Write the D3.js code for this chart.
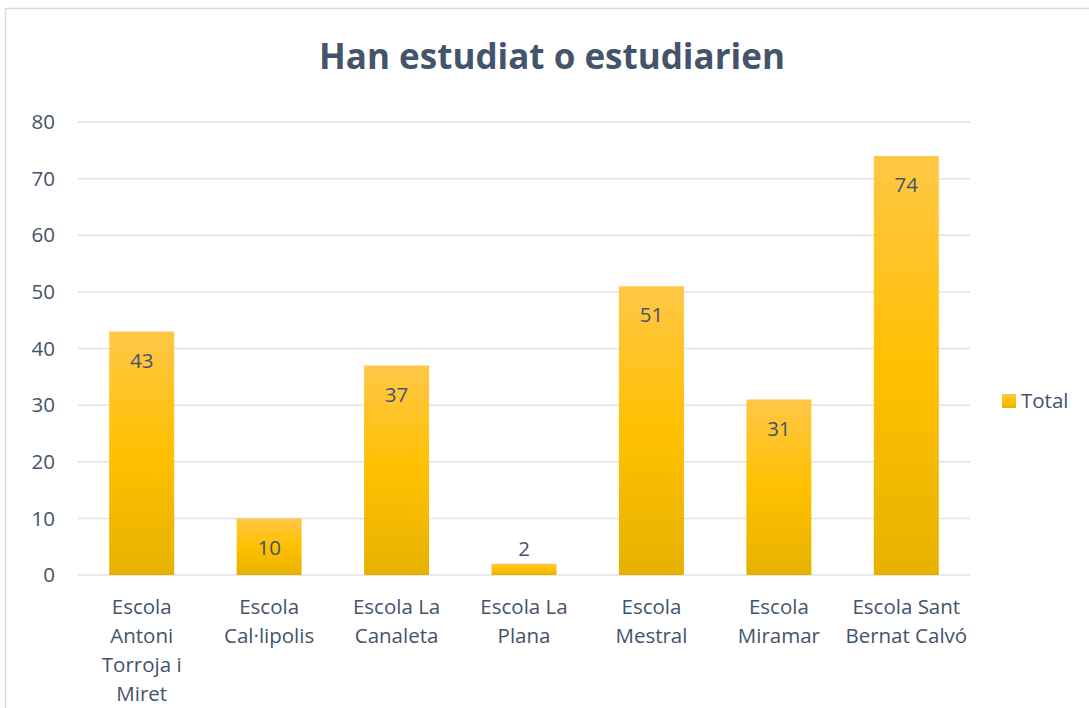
<!DOCTYPE html>
<html>
<head>
<meta charset="utf-8">
<script src="https://cdn.jsdelivr.net/npm/d3@7"></script>
<style>
  body { margin: 0; background: #fff; }
  text { font-family: "Open Sans", sans-serif; fill: #44546a; }
</style>
</head>
<body>
<div id="chart"></div>
<script>
// data
const schools = [
  ["Escola", "Antoni", "Torroja i", "Miret"],
  ["Escola", "Cal·lipolis"],
  ["Escola La", "Canaleta"],
  ["Escola La", "Plana"],
  ["Escola", "Mestral"],
  ["Escola", "Miramar"],
  ["Escola Sant", "Bernat Calvó"]
];
const totals = [43, 10, 37, 2, 51, 31, 74];
const yTicks = [0, 10, 20, 30, 40, 50, 60, 70, 80];
const seriesName = "Total";
const title = "Han estudiat o estudiarien";

let width = 1089, height = 708;
let svg = d3.select("#chart").append("svg")
  .attr("width", width).attr("height", height);

// chart area border (runs off the right / bottom edge)
svg.append("rect")
  .attr("x", 5.5).attr("y", 8.5)
  .attr("width", 1200).attr("height", 800)
  .attr("fill", "none").attr("stroke", "#d9d9d9").attr("stroke-width", 1.5);

// gradient like the Office bar fill
let grad = svg.append("defs").append("linearGradient")
  .attr("id", "gold").attr("x1", 0).attr("x2", 0).attr("y1", 0).attr("y2", 1);
grad.append("stop").attr("offset", "0%").attr("stop-color", "#ffc747");
grad.append("stop").attr("offset", "50%").attr("stop-color", "#ffc000");
grad.append("stop").attr("offset", "100%").attr("stop-color", "#e6b200");

let plot = { left: 78, right: 970, top: 122, bottom: 575 };
let fs = "20.5px";

let x = d3.scaleBand()
  .domain(d3.range(schools.length))
  .range([plot.left, plot.right])
  .paddingInner(0.49).paddingOuter(0.245);

let y = d3.scaleLinear().domain([0, 80]).range([plot.bottom, plot.top]);

// gridlines
svg.append("g").selectAll("line")
  .data(yTicks)
  .enter().append("line")
  .attr("x1", plot.left).attr("x2", plot.right)
  .attr("y1", d => y(d)).attr("y2", d => y(d))
  .attr("stroke", "#dfe2e7").attr("stroke-width", 1.5);

// y tick labels
svg.append("g").selectAll("text")
  .data(yTicks)
  .enter().append("text")
  .attr("x", 55).attr("y", d => y(d))
  .attr("dy", "0.35em")
  .attr("text-anchor", "end")
  .style("font-size", fs)
  .text(d => d);

// bars
svg.append("g").selectAll("rect")
  .data(totals)
  .enter().append("rect")
  .attr("x", (d, i) => x(i))
  .attr("y", d => y(d))
  .attr("width", x.bandwidth())
  .attr("height", d => y(0) - y(d))
  .attr("fill", "url(#gold)");

// value labels, inside end (pushed up when bar is too short)
svg.append("g").selectAll("text")
  .data(totals)
  .enter().append("text")
  .attr("x", (d, i) => x(i) + x.bandwidth() / 2)
  .attr("y", d => Math.min(y(d) + 29, y(0) - 26))
  .attr("dy", "0.35em")
  .attr("text-anchor", "middle")
  .style("font-size", fs)
  .text(d => d);

// category labels, wrapped like the original
let cats = svg.append("g").selectAll("text")
  .data(schools)
  .enter().append("text")
  .attr("text-anchor", "middle")
  .style("font-size", fs)
  .attr("transform", (d, i) => "translate(" + (x(i) + x.bandwidth() / 2) + ",607)");
cats.selectAll("tspan")
  .data(d => d)
  .enter().append("tspan")
  .attr("x", 0)
  .attr("y", (d, j) => j * 29)
  .attr("dy", "0.35em")
  .text(d => d);

// title
svg.append("text")
  .attr("x", 552).attr("y", 57)
  .attr("dy", "0.35em")
  .attr("text-anchor", "middle")
  .style("font-size", "35px")
  .style("font-weight", "bold")
  .text(title);

// legend
svg.append("rect")
  .attr("x", 1002).attr("y", 394)
  .attr("width", 14).attr("height", 14)
  .attr("fill", "url(#gold)");
svg.append("text")
  .attr("x", 1021).attr("y", 401)
  .attr("dy", "0.35em")
  .style("font-size", fs)
  .text(seriesName);
</script>
</body>
</html>
